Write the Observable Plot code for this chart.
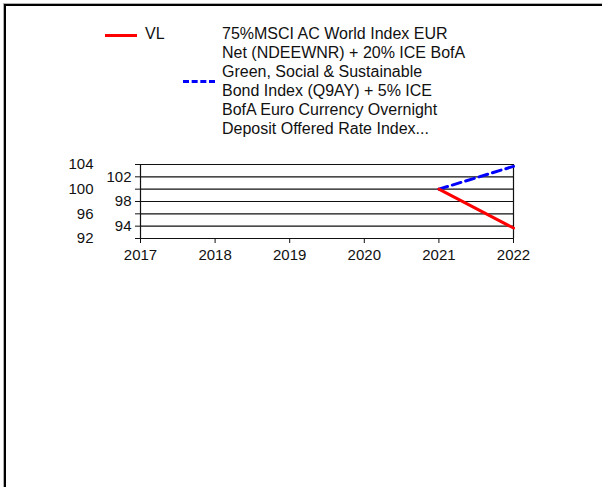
<!DOCTYPE html>
<html>
<head>
<meta charset="utf-8">
<script src="https://cdn.jsdelivr.net/npm/d3@7"></script>
<script src="https://cdn.jsdelivr.net/npm/@observablehq/plot@0.6"></script>
<style>
  html, body { margin: 0; padding: 0; background: #fff; }
  body { width: 602px; height: 487px; position: relative; overflow: hidden; font-family: Arial, "Liberation Sans", sans-serif; }
  #frame-outer { position: absolute; left: 3px; top: 3px; width: 620px; height: 500px; border-top: 1px solid #b0b0b0; border-left: 1px solid #b0b0b0; }
  #frame { position: absolute; left: 4px; top: 4px; width: 620px; height: 500px; border-top: 2px solid #000; border-left: 2px solid #000; }
  #legend { position: relative; width: 602px; height: 150px; font-size: 16px; line-height: 19px; color: #111; }
  .sw { position: absolute; height: 0; }
  .txt { position: absolute; white-space: nowrap; }
  #chart { position: relative; }
</style>
</head>
<body>
<div id="frame-outer"></div>
<div id="frame"></div>
<div id="legend"></div>
<div id="chart"></div>
<script>
// ---- data ----
const years = [2017, 2018, 2019, 2020, 2021, 2022];
const vlYears = [2021, 2022];
const vlValues = [100, 93.7];
const benchYears = [2021, 2022];
const benchValues = [100, 103.7];
const gridValues = [92, 94, 96, 98, 100, 102, 104];
const innerTickLabels = [94, 98, 102];
const outerTickLabels = [92, 96, 100, 104];
const seriesNames = ["VL", "75%MSCI AC World Index EUR Net (NDEEWNR) + 20% ICE BofA Green, Social & Sustainable Bond Index (Q9AY) + 5% ICE BofA Euro Currency Overnight Deposit Offered Rate Index..."];
const benchLines = [
  "75%MSCI AC World Index EUR",
  "Net (NDEEWNR) + 20% ICE BofA",
  "Green, Social & Sustainable",
  "Bond Index (Q9AY) + 5% ICE",
  "BofA Euro Currency Overnight",
  "Deposit Offered Rate Index..."
];
const colors = ["#ff0000", "#0000ff"];

// ---- legend ----
const legend = document.getElementById("legend");
legend.innerHTML = `
  <div class="sw" style="left:105px; top:34px; width:32px; border-top:3px solid ${colors[0]};"></div>
  <div class="txt" style="left:145px; top:24px;">${seriesNames[0]}</div>
  <div class="sw" style="left:183px; top:80px; width:32px; border-top:3px dashed ${colors[1]};"></div>
  <div class="txt" style="left:222px; top:24px;">${benchLines.join("<br>")}</div>
`;

// ---- chart ----
const vl = vlYears.map((y, i) => ({year: y, value: vlValues[i]}));
const bench = benchYears.map((y, i) => ({year: y, value: benchValues[i]}));

const plot = Plot.plot({
  width: 602,
  height: 337,
  marginLeft: 140,
  marginRight: 89,
  marginTop: 14,
  marginBottom: 249,
  style: {fontSize: "15px", fontFamily: "Arial, 'Liberation Sans', sans-serif", color: "#111", background: "transparent"},
  x: {domain: [2017, 2022], label: null},
  y: {domain: [92, 104], label: null},
  marks: [
    Plot.ruleY(gridValues, {stroke: "#111", strokeWidth: 1.2}),
    Plot.ruleX([2017, 2022], {stroke: "#111", strokeWidth: 1.2}),
    Plot.axisX(years, {tickSize: 5, tickPadding: 6, tickFormat: d => String(d), stroke: "#111", strokeOpacity: 1, fill: "#111", label: null}),
    Plot.axisY(gridValues, {tickSize: 5, text: null, stroke: "#111", strokeOpacity: 1, label: null}),
    Plot.axisY(innerTickLabels, {tickSize: 0, tickPadding: 9, fill: "#111", label: null}),
    Plot.axisY(outerTickLabels, {tickSize: 0, tickPadding: 47, fill: "#111", label: null}),
    Plot.line(bench, {x: "year", y: "value", stroke: colors[1], strokeWidth: 3, strokeDasharray: "9,5"}),
    Plot.line(vl, {x: "year", y: "value", stroke: colors[0], strokeWidth: 3})
  ]
});
document.getElementById("chart").appendChild(plot);
</script>
</body>
</html>
